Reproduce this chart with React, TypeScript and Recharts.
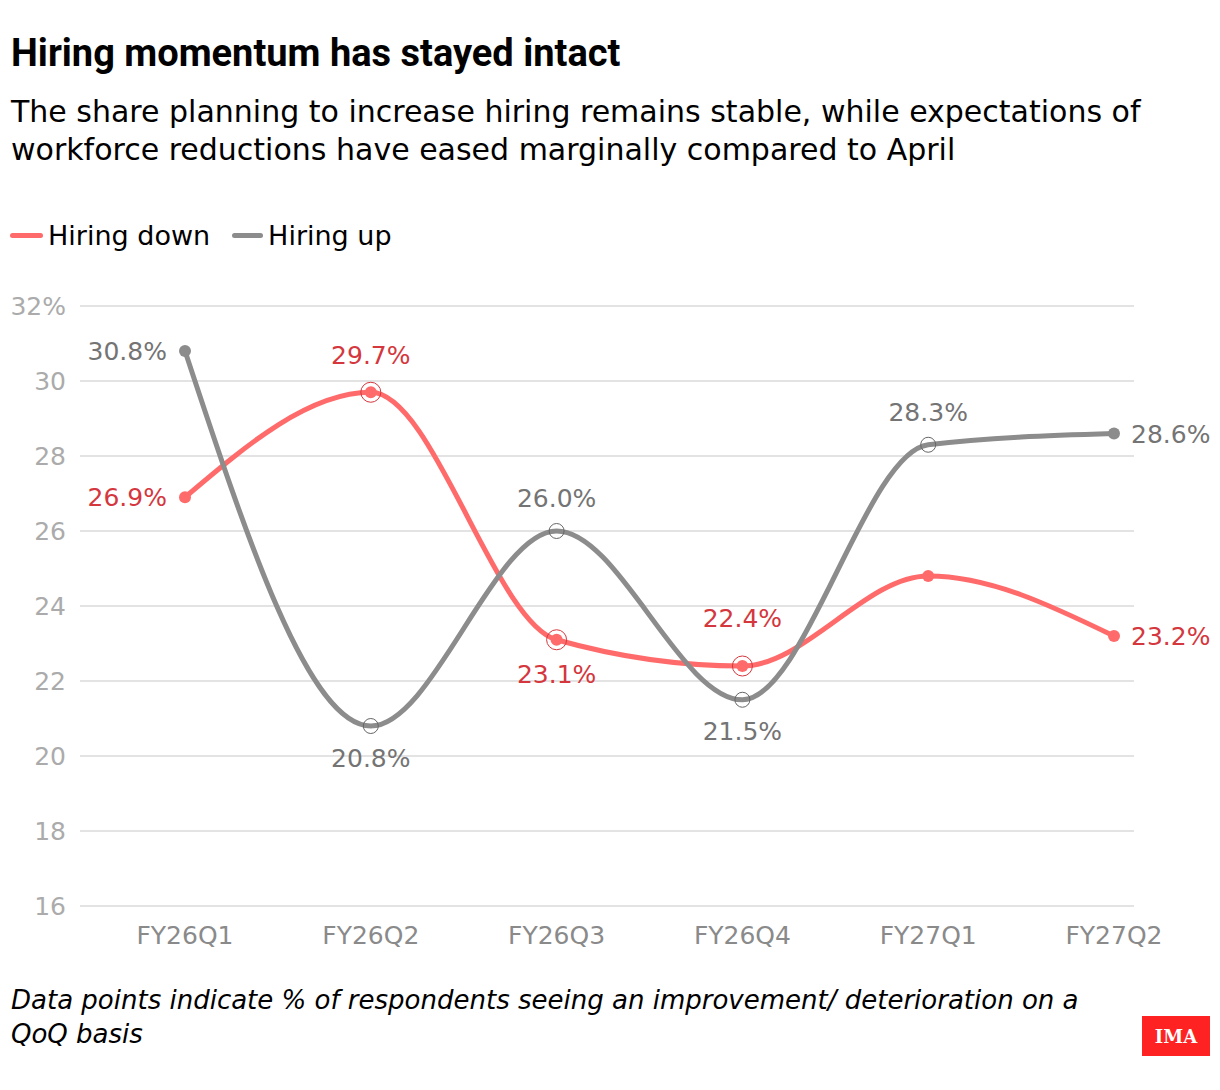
import React from 'react';
import { LineChart, Line, XAxis, YAxis, CartesianGrid } from 'recharts';

// quarters on the x axis
const categories = ['FY26Q1', 'FY26Q2', 'FY26Q3', 'FY26Q4', 'FY27Q1', 'FY27Q2'];
// % of respondents
const hiringDown = [26.9, 29.7, 23.1, 22.4, 24.8, 23.2];
const hiringUp = [30.8, 20.8, 26.0, 21.5, 28.3, 28.6];
const yTicks = [16, 18, 20, 22, 24, 26, 28, 30, 32];

// where each value label sits relative to its point (null = no label)
const downLabels = [
  { pos: 'left', gap: 18 },
  { pos: 'top', gap: 37 },
  { pos: 'bottom', gap: 34 },
  { pos: 'top', gap: 48 },
  null,
  { pos: 'right', gap: 17 },
];
const upLabels = [
  { pos: 'left', gap: 18 },
  { pos: 'bottom', gap: 32 },
  { pos: 'top', gap: 33 },
  { pos: 'bottom', gap: 31 },
  { pos: 'top', gap: 33 },
  { pos: 'right', gap: 17 },
];
// which points get the thin ring
const downRings = [false, true, true, true, false, false];
const upHollow = [false, true, true, true, true, false];

const RED = '#ff6b6b';
const RED_TEXT = '#d4373d';
const GREY = '#8c8c8c';
const GREY_TEXT = '#747474';
const FONT = '"DejaVu Sans", "Noto Sans", sans-serif';

const data = categories.map((name, i) => ({ name, down: hiringDown[i], up: hiringUp[i] }));

const makeLabel = (cfg: any[], color: string) => (props: any) => {
  const { x, y, value, index } = props;
  const c = cfg[index];
  if (!c) return null;
  let tx = x;
  let ty = y;
  let anchor: any = 'middle';
  if (c.pos === 'left') { tx = x - c.gap; anchor = 'end'; }
  if (c.pos === 'right') { tx = x + c.gap; anchor = 'start'; }
  if (c.pos === 'top') ty = y - c.gap;
  if (c.pos === 'bottom') ty = y + c.gap;
  return (
    <text key={`lbl-${index}`} x={tx} y={ty} dy="0.36em" textAnchor={anchor} fill={color} fontSize={25} fontFamily={FONT}>
      {value.toFixed(1)}%
    </text>
  );
};

const downDot = (props: any) => {
  const { cx, cy, index } = props;
  return (
    <g key={`dd-${index}`}>
      <circle cx={cx} cy={cy} r={6} fill={RED} />
      {downRings[index] && <circle cx={cx} cy={cy} r={10} fill="none" stroke={RED_TEXT} strokeWidth={1} />}
    </g>
  );
};

const upDot = (props: any) => {
  const { cx, cy, index } = props;
  if (upHollow[index]) {
    return <circle key={`ud-${index}`} cx={cx} cy={cy} r={7.5} fill="none" stroke="#666" strokeWidth={1} />;
  }
  return <circle key={`ud-${index}`} cx={cx} cy={cy} r={6} fill={GREY} />;
};

export default function App() {
  return (
    <div style={{ position: 'absolute', left: 0, top: 0, width: 1220, height: 1090, background: '#fff', fontFamily: FONT, color: '#000' }}>
      <div style={{ position: 'absolute', left: 11, top: 30, fontFamily: 'Roboto, sans-serif', fontSize: 38, fontWeight: 700, lineHeight: '46px', whiteSpace: 'nowrap' }}>
        Hiring momentum has stayed intact
      </div>
      <div style={{ position: 'absolute', left: 11, top: 93, fontSize: 30, lineHeight: '38px', width: 1200, whiteSpace: 'nowrap' }}>
        The share planning to increase hiring remains stable, while expectations of<br />
        workforce reductions have eased marginally compared to April
      </div>

      {/* legend */}
      <div style={{ position: 'absolute', left: 10, top: 220, display: 'flex', alignItems: 'center', fontSize: 27, whiteSpace: 'nowrap' }}>
        <span style={{ display: 'inline-block', width: 33, height: 5, borderRadius: 3, background: RED, marginRight: 5 }} />
        <span style={{ marginRight: 22 }}>Hiring down</span>
        <span style={{ display: 'inline-block', width: 31, height: 5, borderRadius: 3, background: GREY, marginRight: 5 }} />
        <span>Hiring up</span>
      </div>

      <div style={{ position: 'absolute', left: 0, top: 270 }}>
        <LineChart width={1220} height={700} data={data} margin={{ top: 36, right: 86, bottom: 14, left: 0 }}>
          <CartesianGrid vertical={false} stroke="#e3e3e3" strokeWidth={2} />
          <XAxis
            dataKey="name"
            axisLine={false}
            tickLine={false}
            tickSize={0}
            tickMargin={20}
            height={50}
            padding={{ left: 105, right: 20 }}
            tick={{ fill: '#8a8a8a', fontSize: 25, fontFamily: FONT }}
          />
          <YAxis
            domain={[16, 32]}
            ticks={yTicks}
            width={80}
            axisLine={false}
            tickLine={false}
            tickSize={0}
            tickMargin={14}
            tickFormatter={(v: number) => (v === 32 ? '32%' : String(v))}
            tick={{ fill: '#ababab', fontSize: 25, fontFamily: FONT }}
          />
          <Line
            type="monotone"
            dataKey="down"
            stroke={RED}
            strokeWidth={5}
            dot={downDot}
            activeDot={false}
            label={makeLabel(downLabels, RED_TEXT)}
            isAnimationActive={false}
          />
          <Line
            type="monotone"
            dataKey="up"
            stroke={GREY}
            strokeWidth={5}
            dot={upDot}
            activeDot={false}
            label={makeLabel(upLabels, GREY_TEXT)}
            isAnimationActive={false}
          />
        </LineChart>
      </div>

      <div style={{ position: 'absolute', left: 11, top: 983, fontSize: 26, fontStyle: 'italic', lineHeight: '34px', whiteSpace: 'nowrap' }}>
        Data points indicate % of respondents seeing an improvement/ deterioration on a<br />
        QoQ basis
      </div>
      <div style={{ position: 'absolute', left: 1142, top: 1016, width: 68, height: 40, background: '#ff2222', color: '#fff', fontFamily: '"DejaVu Serif", "Liberation Serif", serif', fontWeight: 700, fontSize: 18, display: 'flex', alignItems: 'center', justifyContent: 'center' }}>
        IMA
      </div>
    </div>
  );
}
